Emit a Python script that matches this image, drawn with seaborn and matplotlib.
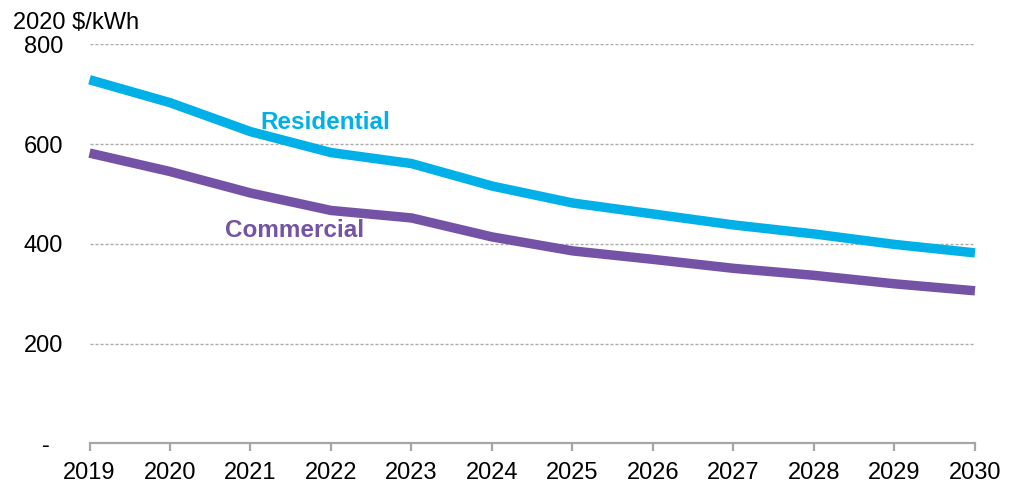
import numpy as np
import pandas as pd
import matplotlib
matplotlib.use("Agg")
import matplotlib.pyplot as plt
import seaborn as sns

years = [2019, 2020, 2021, 2022, 2023, 2024, 2025, 2026, 2027, 2028, 2029, 2030]
residential = [729, 683, 625, 583, 561, 516, 482, 460, 438, 420, 399, 382]
commercial = [582, 545, 502, 467, 452, 414, 386, 369, 351, 337, 320, 306]
series_names = ["Residential", "Commercial"]
y_ticks = [0, 200, 400, 600, 800]
y_tick_labels = ["-  ", "200", "400", "600", "800"]
unit_label = "2020 $/kWh"

colors = {"Residential": "#00B0E6", "Commercial": "#7452A5"}

df = pd.DataFrame({
    "year": years * 2,
    "value": residential + commercial,
    "segment": [series_names[0]] * len(years) + [series_names[1]] * len(years),
})

sns.set_theme(style="white")
plt.rcParams["font.family"] = ["Liberation Sans", "DejaVu Sans"]

fig = plt.figure(figsize=(10.16, 4.83), dpi=100)
ax = fig.add_axes([0.0881, 0.0818, 0.8715, 0.8265])

sns.lineplot(data=df, x="year", y="value", hue="segment", palette=colors,
             linewidth=6.8, ax=ax, legend=False, zorder=3)
for ln in ax.get_lines():
    ln.set_solid_capstyle("butt")
    ln.set_solid_joinstyle("round")
    ln.set_clip_on(False)

ax.set_xlim(years[0], years[-1])
ax.set_ylim(0, 800)
ax.set_xticks(years)
ax.set_xticklabels([str(y) for y in years])
ax.set_yticks(y_ticks)
ax.set_yticklabels(y_tick_labels)
ax.set_xlabel("")
ax.set_ylabel("")

for y in y_ticks[1:]:
    ax.axhline(y, color="#ABABAB", linewidth=1.0, linestyle=(0, (2.2, 1.4)), zorder=1)

for s in ["top", "right", "left"]:
    ax.spines[s].set_visible(False)
ax.spines["bottom"].set_color("#A6A6A6")
ax.spines["bottom"].set_linewidth(1.6)
ax.spines["bottom"].set_zorder(2)

ax.tick_params(axis="x", length=6, width=1.6, color="#A6A6A6", pad=7,
               labelsize=17, labelcolor="#000000", bottom=True)
ax.tick_params(axis="y", length=0, pad=19, labelsize=17, labelcolor="#000000")

ax.text(2021.93, 643, "Residential", color=colors["Residential"], fontsize=17.5,
        fontweight="bold", ha="center", va="center")
ax.text(2021.55, 427, "Commercial", color=colors["Commercial"], fontsize=17.5,
        fontweight="bold", ha="center", va="center")

fig.text(13 / 1016, 1 - 29 / 483, unit_label, fontsize=17, ha="left", va="baseline",
         color="#000000")

fig.savefig("out.png", dpi=100)
